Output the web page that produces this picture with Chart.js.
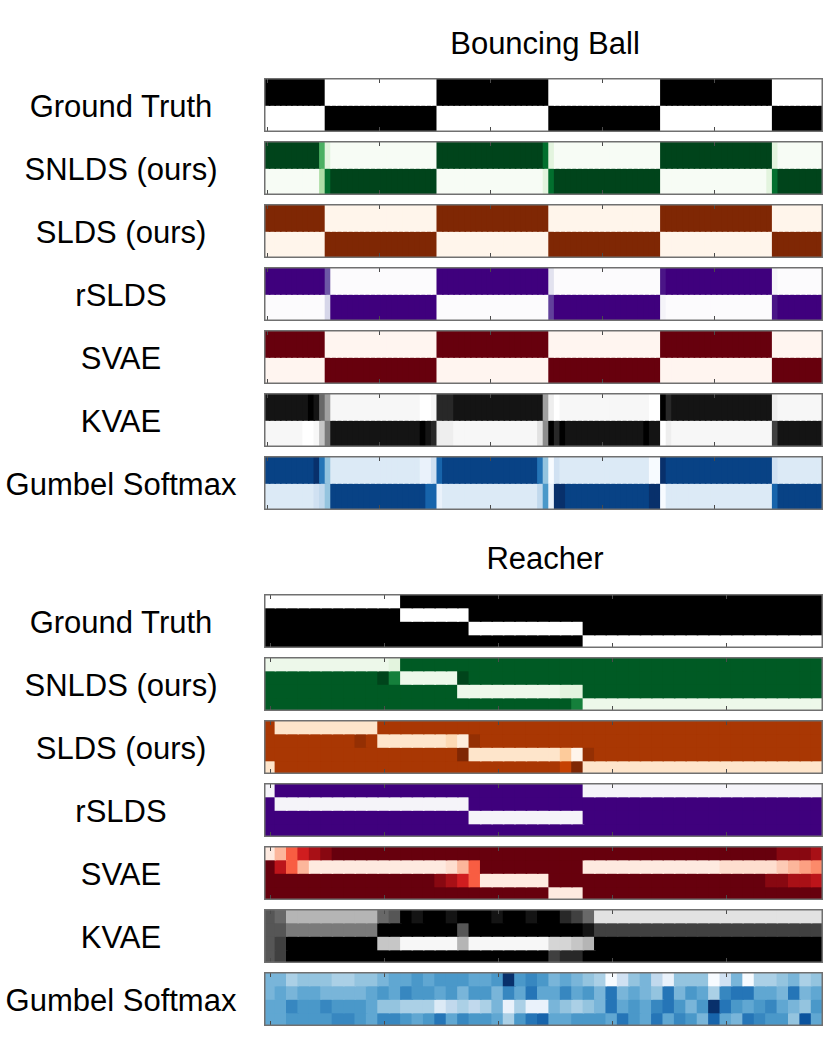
<!DOCTYPE html>
<html>
<head>
<meta charset="utf-8">
<script src="https://cdn.jsdelivr.net/npm/chart.js@4.4.1/dist/chart.umd.min.js"></script>
<style>
  html, body { margin: 0; padding: 0; background: #fff; }
  #fig { position: relative; width: 830px; height: 1037px; overflow: hidden;
         font-family: "Liberation Sans", Arial, Helvetica, sans-serif; color: #000; }
  .lbl { position: absolute; white-space: nowrap; font-size: 31px; line-height: 1;
         transform: translate(-50%, -50%); }
  canvas.hm { position: absolute; }
</style>
</head>
<body>
<div id="fig"></div>
<script>
/* Discrete-state posteriors over time, one heatmap strip per model. */
"use strict";

const MODELS = ["Ground Truth", "SNLDS (ours)", "SLDS (ours)", "rSLDS", "SVAE", "KVAE", "Gumbel Softmax"];
const MODEL_CMAPS = ["Greys", "Greens", "Oranges", "Purples", "Reds", "Greys", "Blues"];

// Cell levels are hex digits 0..f (0 = lightest end of the colormap, f = darkest).
// "f*11" means level f for 11 consecutive time steps; a lone digit is one step.
const BB_STEPS = 100;
const BB_TICKS = [0, 20, 40, 60, 80];
const BB_GT     = ["f*11 0*20 f*20 0*20 f*20 0*9", "0*11 f*20 0*20 f*20 0*20 f*9"];
const BB_SNLDS  = ["f*10 9 2 0*19 f*19 d 2 0*19 f*20 2 0*8", "0*10 5 d f*19 0*19 2 d f*19 0*19 2 d f*8"];
const BB_SLDS   = ["f*11 0*20 f*20 0*20 f*20 0*9", "0*11 f*20 0*20 f*20 0*20 f*9"];
const BB_RSLDS  = ["f*11 b 0*19 f*20 3 0*19 e f*19 1 0*8", "0*11 4 f*19 0*20 c f*19 1 0*19 e f*8"];
const BB_SVAE   = ["f*11 0*20 f*20 0*20 f*20 0*9", "0*11 f*20 0*20 f*20 0*20 f*9"];
const BB_KVAE   = ["e*8 f e a 7 1*16 0*2 1 d*3 e*16 7 2 0 1*16 0*2 f d e*18 2 1*8",
                   "1*7 0*2 1 5 9 e*16 f e d 2*3 1*15 3 8 f d f e*14 f e e 0 2 1*18 c e*8"];
const BB_GUMBEL = ["e*9 f b 6 2*16 1*2 3 c e*17 b 6 0 3 2*16 0*2 f e*19 3 2*8",
                   "2*9 3 4 6 e*17 c*2 1 2*17 4 9 1 f*2 e*15 f*2 0 2*19 c e*8"];

const R_STEPS = 49;
const R_TICKS = [0, 10, 20, 30, 40];
const R_GT     = ["0*12 f*37", "f*12 0*6 f*31", "f*18 0*10 f*21", "f*28 0*21"];
const R_SNLDS  = ["1*11 2 e*37", "e*10 f c 1*5 f e*31", "e*17 1*9 2*2 e*21", "e*27 c 1*21"];
const R_SLDS   = ["d 2*9 d*39", "d*8 e d 2*6 3 1 e d*30", "d*17 f 2*8 4 0 e d*20", "2 d*25 c f 2*21"];
const R_RSLDS  = ["1 f*27 1*21", "f 1*17 f*31", "f*18 1*10 f*21", "f*49"];
const R_SVAE   = ["1 4 8 b d e f*39 e*3 d",
                  "f c 8 4 1*12 2 4 8 f*9 1*12 2*5 3 4 5 6",
                  "f*15 e d b 8 1*6 f*19 e e d d c",
                  "f*25 1*3 f*21"];
const R_KVAE   = ["b a 6*8 a b f e f f e f f f e f f e f f d c a 3*20",
                  "b b 9*8 f*7 b f*10 e c*20",
                  "b c f*8 5*2 1*5 6 1*7 4 4 5 6 f*20",
                  "b c f*23 c d d f*21"];
const R_GUMBEL = ["7 7 5 6 6 6 5 5 6 6 7 8 8 9 8 9 9 9 8 8 9 f 9 a 9 7 8 7 6 5 0 3 6 7 4 1 6 6 6 0 3 7 0 5 5 6 7 5 6",
                  "7 8 7 8 8 7 7 7 7 8 9 8 a 9 9 8 9 7 9 9 7 a 8 b 8 8 a 8 9 7 b 7 8 7 6 b 7 9 8 5 a b b 8 8 7 b 7 8",
                  "8 8 a 9 9 a 9 9 9 8 6 6 5 5 5 2 4 5 4 5 7 1 5 1 1 7 6 5 6 7 b 8 9 8 a b 9 7 9 f b 9 8 9 a 8 7 6 9",
                  "8 8 9 9 9 9 a a 9 8 a a 9 8 9 b 8 a 9 9 8 5 9 b c 8 8 9 9 9 8 b 9 8 b 8 a 9 7 c 8 7 b a 9 9 6 d 8"];

// ColorBrewer 9-class sequential ramps (matplotlib's Greys/Greens/...)
const RAMPS = {
  Greys:   ["#ffffff", "#f0f0f0", "#d9d9d9", "#bdbdbd", "#969696", "#737373", "#525252", "#252525", "#000000"],
  Greens:  ["#f7fcf5", "#e5f5e0", "#c7e9c0", "#a1d99b", "#74c476", "#41ab5d", "#238b45", "#006d2c", "#00441b"],
  Oranges: ["#fff5eb", "#fee6ce", "#fdd0a2", "#fdae6b", "#fd8d3c", "#f16913", "#d94801", "#a63603", "#7f2704"],
  Purples: ["#fcfbfd", "#efedf5", "#dadaeb", "#bcbddc", "#9e9ac8", "#807dba", "#6a51a3", "#54278f", "#3f007d"],
  Reds:    ["#fff5f0", "#fee0d2", "#fcbba1", "#fc9272", "#fb6a4a", "#ef3b2c", "#cb181d", "#a50f15", "#67000d"],
  Blues:   ["#f7fbff", "#deebf7", "#c6dbef", "#9ecae1", "#6baed6", "#4292c6", "#2171b5", "#08519c", "#08306b"],
};

const LAYOUT = { boxLeft: 264, boxWidth: 559, boxHeight: 54, pitch: 63, labelX: 121, titleX: 545 };

const PANELS = [
  { title: "Bouncing Ball", titleY: 43, top: 78, steps: BB_STEPS, ticks: BB_TICKS,
    rows: [BB_GT, BB_SNLDS, BB_SLDS, BB_RSLDS, BB_SVAE, BB_KVAE, BB_GUMBEL] },
  { title: "Reacher", titleY: 558, top: 594, steps: R_STEPS, ticks: R_TICKS,
    rows: [R_GT, R_SNLDS, R_SLDS, R_RSLDS, R_SVAE, R_KVAE, R_GUMBEL] },
];

const hexRgb = (h) => [1, 3, 5].map((i) => parseInt(h.slice(i, i + 2), 16));

function rampColor(name, t) {
  const stops = RAMPS[name];
  const pos = Math.min(Math.max(t, 0), 1) * (stops.length - 1);
  const i = Math.min(Math.floor(pos), stops.length - 2);
  const f = pos - i;
  const a = hexRgb(stops[i]), b = hexRgb(stops[i + 1]);
  const c = a.map((v, k) => Math.round(v + (b[k] - v) * f));
  return `rgb(${c[0]},${c[1]},${c[2]})`;
}

function expand(row, steps) {
  const out = [];
  for (const tok of row.trim().split(/\s+/)) {
    const [lvl, n] = tok.split("*");
    const count = n ? Number(n) : 1;
    for (let k = 0; k < count; k++) out.push(parseInt(lvl, 16) / 15);
  }
  if (out.length !== steps) console.warn(`row has ${out.length} steps, expected ${steps}`);
  return out;
}

// Frame + inward ticks on top and bottom, like the matplotlib axes box.
const framePlugin = {
  id: "frame",
  afterDraw(chart, _args, opts) {
    const { ctx, chartArea: a } = chart;
    const x = chart.scales.x;
    ctx.save();
    ctx.strokeStyle = "#4a4a4a";
    ctx.lineWidth = 1;
    ctx.beginPath();
    for (const t of opts.ticks) {
      const px = Math.round(x.getPixelForValue(t)) + 0.5;
      ctx.moveTo(px, a.top); ctx.lineTo(px, a.top + 5);
      ctx.moveTo(px, a.bottom); ctx.lineTo(px, a.bottom - 5);
    }
    ctx.stroke();
    ctx.strokeStyle = "#707070";
    ctx.lineWidth = 1.5;
    ctx.strokeRect(a.left + 0.75, a.top + 0.75, a.width - 1.5, a.height - 1.5);
    ctx.restore();
  },
};

function addLabel(text, x, y) {
  const el = document.createElement("div");
  el.className = "lbl";
  el.textContent = text;
  el.style.left = `${x}px`;
  el.style.top = `${y}px`;
  document.getElementById("fig").appendChild(el);
}

function heatmap(top, rows, cmap, steps, ticks) {
  const canvas = document.createElement("canvas");
  canvas.className = "hm";
  canvas.width = LAYOUT.boxWidth;
  canvas.height = LAYOUT.boxHeight;
  canvas.style.left = `${LAYOUT.boxLeft}px`;
  canvas.style.top = `${top}px`;
  document.getElementById("fig").appendChild(canvas);

  const labels = Array.from({ length: steps }, (_, i) => i);
  const datasets = rows.map((r) => {
    const vals = expand(r, steps);
    return {
      data: vals.map(() => 1),
      backgroundColor: vals.map((v) => rampColor(cmap, v)),
      borderWidth: 0,
      inflateAmount: 0.8, // overlap neighbours so no hairline seams show
      categoryPercentage: 1,
      barPercentage: 1,
    };
  });

  new Chart(canvas, {
    type: "bar",
    data: { labels, datasets },
    options: {
      responsive: false,
      animation: false,
      events: [],
      layout: { padding: 0 },
      plugins: { legend: { display: false }, tooltip: { enabled: false }, frame: { ticks } },
      scales: {
        x: { display: false, stacked: true },
        y: { display: false, stacked: true, min: 0, max: rows.length, reverse: true },
      },
    },
    plugins: [framePlugin],
  });
}

for (const p of PANELS) {
  addLabel(p.title, LAYOUT.titleX, p.titleY);
  p.rows.forEach((rows, i) => {
    const top = p.top + i * LAYOUT.pitch;
    addLabel(MODELS[i], LAYOUT.labelX, top + LAYOUT.boxHeight / 2 + 1);
    heatmap(top, rows, MODEL_CMAPS[i], p.steps, p.ticks);
  });
}
</script>
</body>
</html>
